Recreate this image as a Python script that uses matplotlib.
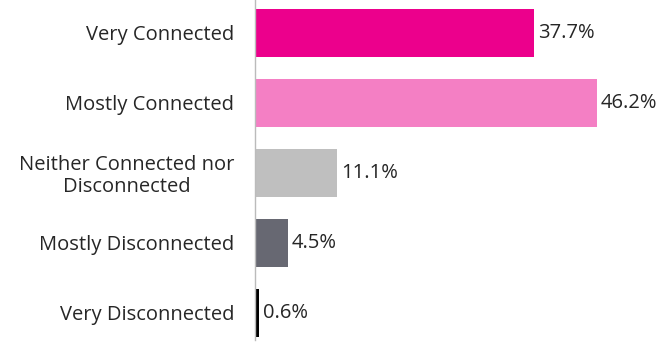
import matplotlib.pyplot as plt

categories = ['Very Connected', 'Mostly Connected', 'Neither Connected nor\nDisconnected',
              'Mostly Disconnected', 'Very Disconnected']
values = [37.7, 46.2, 11.1, 4.5, 0.6]
colors = ['#EC008C', '#F47FC4', '#BFBFBF', '#676872', '#000000']

plt.rcParams['font.family'] = ['Open Sans', 'DejaVu Sans']

fig = plt.figure(figsize=(6.7, 3.5), dpi=100)
ax = fig.add_axes([255 / 670, 10 / 350, 407 / 670, 340 / 350])

y = list(range(len(categories)))
ax.barh(y, values, height=0.68, color=colors)

for yi, v in zip(y, values):
    ax.text(v + 0.5, yi, f'{v:.1f}%', va='center', ha='left', fontsize=14.5, color='#262626')

ax.set_xlim(0, 55)
ax.set_ylim(4.386, -0.471)
ax.set_yticks(y)
ax.set_yticklabels(categories, fontsize=14.5, color='#262626', ha='right',
                   multialignment='center', linespacing=1.1)
ax.tick_params(axis='y', length=0, pad=15)
ax.set_xticks([])

for side in ['top', 'right', 'bottom']:
    ax.spines[side].set_visible(False)
ax.spines['left'].set_color('#BBBBBB')
ax.spines['left'].set_linewidth(1.0)

fig.savefig('out.png', dpi=100)
